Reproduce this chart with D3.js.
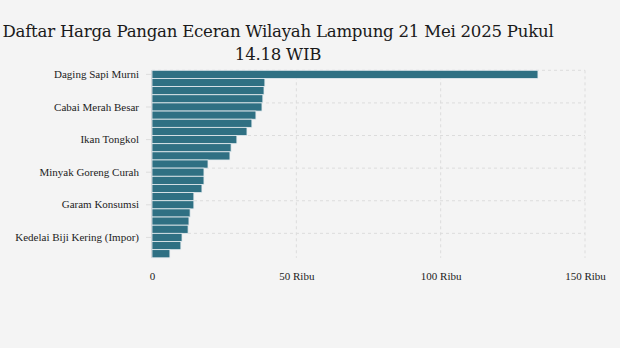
<!DOCTYPE html>
<html><head><meta charset="utf-8">
<script src="https://cdn.jsdelivr.net/npm/d3@7"></script>
<style>
html,body{margin:0;padding:0;background:#f4f4f4;}
svg{display:block;}
</style></head>
<body>
<svg id="c" width="620" height="348"></svg>
<script>
const categories = [
  "Daging Sapi Murni","Daging Ayam Ras","Cabai Rawit Merah","Bawang Putih Bonggol",
  "Cabai Merah Besar","Bawang Merah","Cabai Merah Keriting","Ikan Kembung",
  "Ikan Tongkol","Telur Ayam Ras","Ikan Bandeng","Minyak Goreng Kemasan",
  "Minyak Goreng Curah","Tepung Terigu Kemasan","Gula Konsumsi","Beras Premium",
  "Garam Konsumsi","Beras Medium","Tepung Terigu Curah","Beras SPHP",
  "Kedelai Biji Kering (Impor)","Kedelai Biji Kering (Lokal)","Jagung Tingkat Peternak"
];
const values = [133700,39100,38800,38400,38100,36000,34600,32900,29400,27400,27000,19400,
  18000,18000,17300,14500,14500,13200,12800,12500,10400,10000,6200];
const xTicks = [0,50000,100000,150000];
const xTickLabels = ["0","50 Ribu","100 Ribu","150 Ribu"];
const titleLines = ["Daftar Harga Pangan Eceran Wilayah Lampung 21 Mei 2025 Pukul","14.18 WIB"];

(function(){
const svg = d3.select("#c");
const pl = 152, pr = 585, pt = 70.3, pb = 257.8;
const x = d3.scaleLinear().domain([0,150000]).range([pl,pr]);
const y = d3.scaleBand().domain(categories).range([pt,pb]).paddingInner(0).paddingOuter(0);

// title
svg.append("g").selectAll("text").data(titleLines).join("text")
  .attr("x",278).attr("y",(d,i)=>37+i*22.5)
  .attr("text-anchor","middle")
  .attr("font-family","'DejaVu Serif', serif")
  .attr("font-size",16.6).attr("fill","#1a1a1a")
  .style("letter-spacing","-0.25px")
  .text(d=>d);

// horizontal grid at band boundaries every 4
const hIdx = categories.map((d,i)=>i).filter(i=>i%4===0);
svg.append("g").selectAll("line").data(hIdx).join("line")
  .attr("x1",pl).attr("x2",pr)
  .attr("y1",i=>y(categories[i])).attr("y2",i=>y(categories[i]))
  .attr("stroke","#dcdcdc").attr("stroke-width",1).attr("stroke-dasharray","3,3");

// vertical grid
svg.append("g").selectAll("line").data(xTicks.slice(1)).join("line")
  .attr("x1",d=>x(d)).attr("x2",d=>x(d)).attr("y1",pt).attr("y2",pb)
  .attr("stroke","#dcdcdc").attr("stroke-width",1).attr("stroke-dasharray","3,3");

// bars
svg.append("g").selectAll("rect").data(values).join("rect")
  .attr("x",x(0)).attr("y",(d,i)=>y(categories[i]))
  .attr("width",d=>x(d)-x(0)).attr("height",y.bandwidth())
  .attr("fill","#2f7083").attr("stroke","#e6ecef").attr("stroke-width",0.8);

// left axis line
svg.append("line").attr("x1",pl-0.5).attr("x2",pl-0.5).attr("y1",pt).attr("y2",pb)
  .attr("stroke","#d0d4d8").attr("stroke-width",1);

// y labels every 4th
const yAxis = d3.axisLeft(y).tickValues(categories.filter((d,i)=>i%4===0)).tickSize(5).tickPadding(7);
const ga = svg.append("g").attr("transform",`translate(${pl-1},0)`).call(yAxis);
ga.select(".domain").remove();
ga.selectAll(".tick line").attr("stroke","#dddddd");
ga.selectAll(".tick text").attr("font-family","'Liberation Serif', serif").attr("font-size",11).attr("fill","#222");

// x labels
const xAxis = d3.axisBottom(x).tickValues(xTicks).tickFormat((d,i)=>xTickLabels[i]).tickSize(0).tickPadding(14);
const gx = svg.append("g").attr("transform",`translate(0,${pb})`).call(xAxis);
gx.select(".domain").remove();
gx.selectAll(".tick text").attr("font-family","'Liberation Serif', serif").attr("font-size",11).attr("fill","#222");
})();
</script>
</body></html>
